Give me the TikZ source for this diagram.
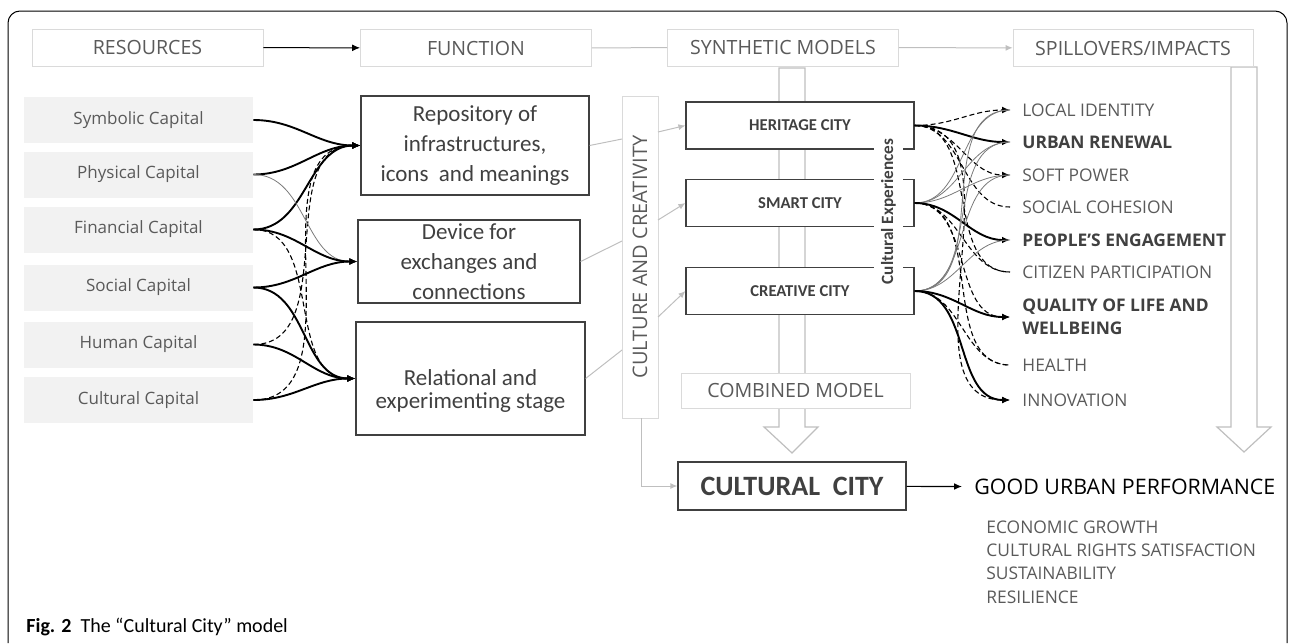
\documentclass[tikz,border=0pt]{standalone}
\usepackage{fontspec}
\setmainfont{Open Sans}
\newfontfamily\calfont{Carlito}
\usetikzlibrary{arrows.meta}
\definecolor{txtgray}{HTML}{5A5A5A}
\definecolor{darkgray}{HTML}{404040}
\definecolor{headline}{HTML}{DADADA}
\definecolor{capfill}{HTML}{F2F2F2}
\definecolor{linegray}{HTML}{BFBFBF}
\definecolor{thingray}{HTML}{7A7A7A}
\tikzset{
  head/.style={draw=headline, fill=white, minimum width=115.5pt, minimum height=18.5pt, inner sep=0pt, text=txtgray, font=\fontsize{9.8}{11}\selectfont},
  capbox/.style={fill=capfill, minimum width=114.5pt, minimum height=23pt, inner sep=0pt, text=txtgray, font=\fontsize{8.5}{10}\selectfont},
  funbox/.style={draw=darkgray, line width=0.6pt, align=center, inner sep=0pt, text=darkgray, font=\calfont\fontsize{11.5}{15}\selectfont},
  citybox/.style={draw=darkgray, line width=0.6pt, fill=white, minimum width=114pt, minimum height=23.5pt, inner sep=0pt, text=darkgray, font=\calfont\bfseries\fontsize{8.3}{10}\selectfont},
  softbox/.style={draw=headline, fill=white, inner sep=0pt, text=txtgray},
  impact/.style={anchor=west, inner xsep=6pt, inner ysep=0pt, text=txtgray, font=\fontsize{8.7}{11.5}\selectfont},
  strong/.style={text=darkgray, font=\bfseries\fontsize{8.7}{11.5}\selectfont},
  arr/.style={-{Latex[length=4pt,width=3.4pt]}},
  grayarr/.style={-{Latex[length=3.5pt,width=3pt]}},
  heavy/.style={line width=0.95pt},
  dashline/.style={line width=0.55pt, dash pattern=on 2.5pt off 1.5pt},
  fine/.style={line width=0.4pt, draw=thingray},
  faint/.style={line width=0.5pt, draw=linegray},
  hollow/.style={draw=linegray, line width=0.6pt, fill=white},
}
\begin{document}
\begin{tikzpicture}[x=0.5pt,y=-0.5pt]
  \useasboundingbox (0,0) rectangle (1293,643);
  \draw[line width=0.5pt, rounded corners=6pt] (8,643) -- (8,11) -- (1287,11) -- (1287,643);

  \draw[hollow] (779,68) -- (779,427) -- (764,427) -- (792,453) -- (818,427) -- (805,427) -- (805,68) -- cycle;
  \draw[hollow] (1231,67) -- (1231,427) -- (1217,427) -- (1244,452) -- (1271,427) -- (1257,427) -- (1257,67) -- cycle;

  \node[head] (res) at (147.5,47.5) {RESOURCES};
  \node[head] (fun) at (476,48) {FUNCTION};
  \node[head] (syn) at (783,47.5) {SYNTHETIC MODELS};
  \node[head, minimum width=120pt] (spill) at (1133,48) {SPILLOVERS/IMPACTS};

  \node[capbox] (cap1) at (138.5,120) {Symbolic Capital};
  \node[capbox] (cap2) at (138.5,174.5) {Physical Capital};
  \node[capbox] (cap3) at (138.5,229.5) {Financial Capital};
  \node[capbox] (cap4) at (138.5,287.5) {Social Capital};
  \node[capbox] (cap5) at (138.5,344.5) {Human Capital};
  \node[capbox] (cap6) at (138.5,400) {Cultural Capital};

  \node[funbox, minimum width=114pt, minimum height=49.5pt] (fun1) at (475,145.5) {Repository of\\infrastructures,\\icons\ \ and meanings};
  \node[funbox, minimum width=111pt, minimum height=41.5pt] (fun2) at (469,261.5) {Device for\\exchanges and\\connections};
  \node[funbox, minimum width=114.5pt, minimum height=56.5pt, font=\calfont\fontsize{11.5}{11.5}\selectfont] (fun3) at (470.5,378.5) {\rule{0pt}{20.5pt}Relational and\\experimenting stage};

  \node[softbox, rotate=90, minimum width=161pt, minimum height=18pt, font=\fontsize{10}{12}\selectfont] (cult) at (640,257) {CULTURE AND CREATIVITY};
  \coordinate (cin1) at (622,139);
  \coordinate (cin2) at (622,241);
  \coordinate (cin3) at (622,350);
  \coordinate (cout1) at (658,132);
  \coordinate (cout2) at (658,220);
  \coordinate (cout3) at (658,317);
  \coordinate (cbot) at (641,418);

  \node[citybox] (city1) at (800,125.5) {HERITAGE CITY};
  \node[citybox] (city2) at (800,203) {SMART CITY};
  \node[citybox] (city3) at (800,291) {CREATIVE CITY};
  \node[fill=white, rotate=90, inner sep=0pt, minimum width=78.5pt, minimum height=14.5pt, text=darkgray, font=\calfont\bfseries\fontsize{8.6}{10}\selectfont] (exper) at (888.5,211.5) {Cultural Experiences};

  \node[softbox, minimum width=114.5pt, minimum height=17.5pt, font=\fontsize{9.8}{11}\selectfont] (comb) at (795.5,390.5) {COMBINED MODEL};
  \node[draw=darkgray, line width=0.6pt, minimum width=114pt, minimum height=24pt, inner sep=0pt, text=darkgray, font=\calfont\bfseries\fontsize{14}{16}\selectfont] (ccity) at (792,486) {CULTURAL\ \ CITY};
  \node[anchor=west, inner xsep=6pt, font=\fontsize{10.7}{12}\selectfont] (good) at (962,487) {GOOD URBAN PERFORMANCE};
  \node[anchor=north west, inner sep=0pt, align=left, text=txtgray, font=\fontsize{8.7}{11.7}\selectfont] (gains) at (986,520) {ECONOMIC GROWTH\\CULTURAL RIGHTS SATISFACTION\\SUSTAINABILITY\\RESILIENCE};

  \node[impact] (imp1) at (1010,110) {LOCAL IDENTITY};
  \node[impact, strong] (imp2) at (1010,142) {URBAN RENEWAL};
  \node[impact] (imp3) at (1010,175) {SOFT POWER};
  \node[impact] (imp4) at (1010,207) {SOCIAL COHESION};
  \node[impact, strong] (imp5) at (1010,240) {PEOPLE’S ENGAGEMENT};
  \node[impact] (imp6) at (1010,272) {CITIZEN PARTICIPATION};
  \node[impact, strong, align=left] (imp7) at (1010,317) {QUALITY OF LIFE AND\\WELLBEING};
  \node[impact] (imp8) at (1010,365) {HEALTH};
  \node[impact] (imp9) at (1010,400) {INNOVATION};

  \node[anchor=west, inner sep=0pt, font=\calfont\fontsize{10}{12}\selectfont] (figcap) at (26,627) {\textbf{Fig. 2}\ \ The “Cultural City” model};

  \draw[arr, line width=0.5pt] (res) -- (fun);
  \draw[faint] (fun) -- (syn);
  \draw[faint, grayarr] (syn) -- (spill);

  \draw[heavy, arr] (cap1.east) to[out=0,in=180] (fun1.west);
  \draw[heavy, arr] (cap2.east) to[out=0,in=180] (fun1.west);
  \draw[heavy, arr] (cap3.east) to[out=0,in=180] (fun1.west);
  \draw[dashline, arr] (cap5.east) to[out=0,in=180] (fun1.west);
  \draw[dashline, arr] (cap6.east) to[out=0,in=180] (fun1.west);
  \draw[fine, arr] (cap2.east) to[out=0,in=180] (fun2.west);
  \draw[heavy, arr] (cap3.east) to[out=0,in=180] (fun2.west);
  \draw[heavy, arr] (cap4.east) to[out=0,in=180] (fun2.west);
  \draw[dashline, arr] (cap3.east) to[out=0,in=180] (fun3.west);
  \draw[heavy, arr] (cap4.east) to[out=0,in=180] (fun3.west);
  \draw[heavy, arr] (cap5.east) to[out=0,in=180] (fun3.west);
  \draw[heavy, arr] (cap6.east) to[out=0,in=180] (fun3.west);

  \draw[faint] (fun1.east) -- (cin1);
  \draw[faint] (fun2.east) -- (cin2);
  \draw[faint] (fun3.east) -- (cin3);
  \draw[faint, grayarr] (cout1) -- (city1.west);
  \draw[faint, grayarr] (cout2) -- (city2.west);
  \draw[faint, grayarr] (cout3) -- (city3.west);
  \draw[faint, grayarr] (cbot) |- (ccity.west);
  \draw[arr, line width=0.6pt] (ccity) -- (good);

  \draw[dashline, arr] (city1.east) to[out=0,in=180] (imp1.west);
  \draw[heavy, arr] (city1.east) to[out=0,in=180] (imp2.west);
  \draw[dashline, arr] (city1.east) to[out=0,in=180] (imp3.west);
  \draw[dashline] (city1.east) to[out=0,in=180] (imp4.west);
  \draw[dashline] (city1.east) to[out=0,in=180] (imp6.west);
  \draw[dashline, arr] (city1.east) to[out=0,in=180] (imp9.west);

  \draw[fine] (city2.east) to[out=0,in=180] (imp1.west);
  \draw[fine] (city2.east) to[out=0,in=180] (imp2.west);
  \draw[fine] (city2.east) to[out=0,in=180] (imp3.west);
  \draw[heavy, arr] (city2.east) to[out=0,in=180] (imp5.west);
  \draw[dashline] (city2.east) to[out=0,in=180] (imp6.west);
  \draw[dashline, arr] (city2.east) to[out=0,in=180] (imp7.west);
  \draw[dashline] (city2.east) to[out=0,in=180] (imp8.west);

  \draw[fine] (city3.east) to[out=0,in=180] (imp1.west);
  \draw[fine] (city3.east) to[out=0,in=180] (imp2.west);
  \draw[fine] (city3.east) to[out=0,in=180] (imp3.west);
  \draw[fine] (city3.east) to[out=0,in=180] (imp5.west);
  \draw[heavy, arr] (city3.east) to[out=0,in=180] (imp7.west);
  \draw[dashline] (city3.east) to[out=0,in=180] (imp8.west);
  \draw[heavy, arr] (city3.east) to[out=0,in=180] (imp9.west);
\end{tikzpicture}
\end{document}
